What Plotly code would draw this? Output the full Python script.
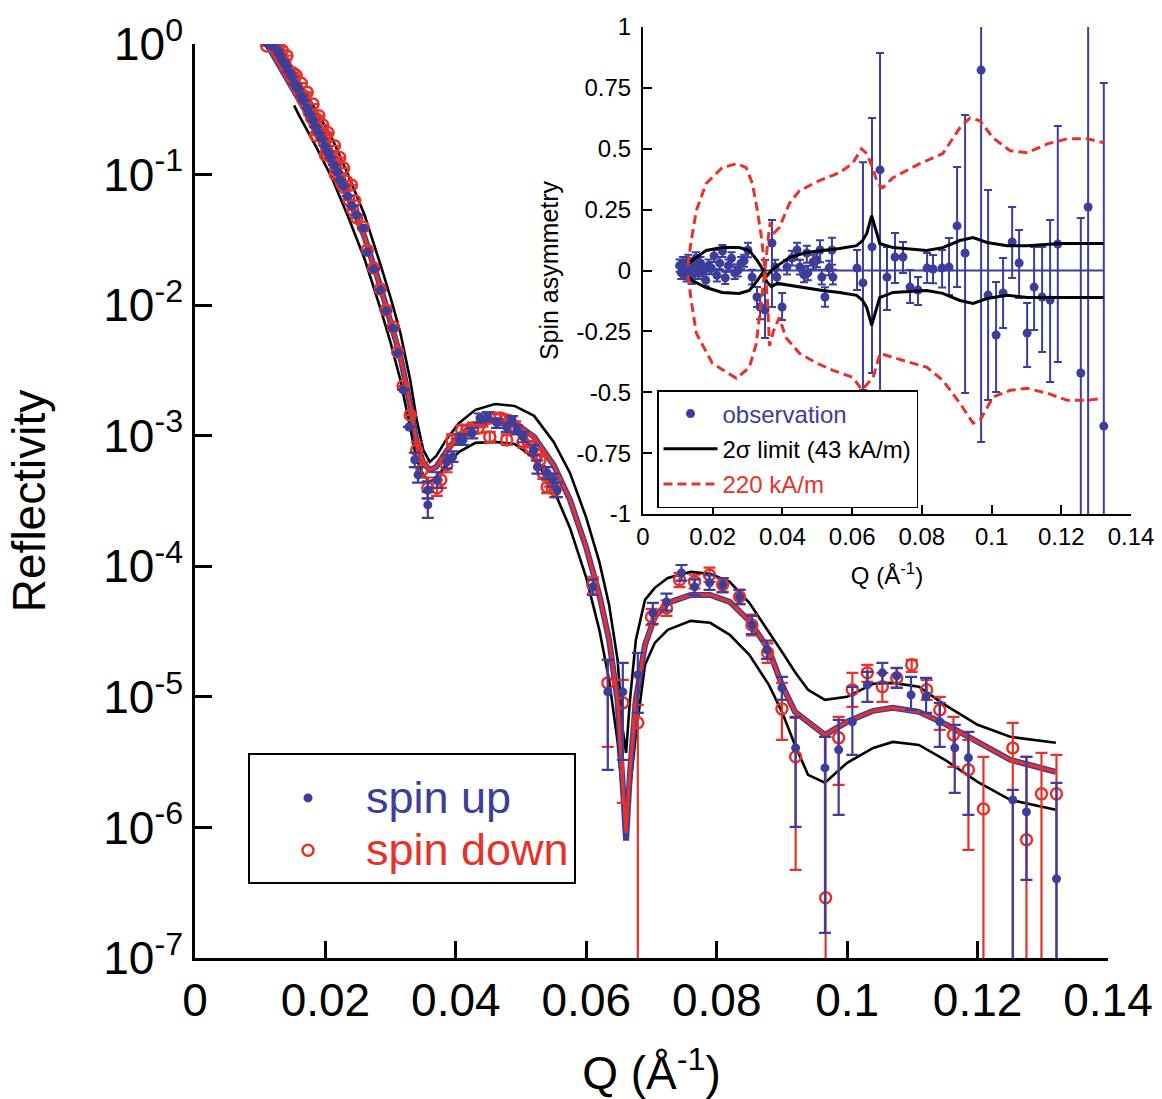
import numpy as np
import plotly.graph_objects as go

BLUE = "#3D3D9B"
RED = "#E6332A"
AX = -9.0  # error bar that runs past the bottom of the axis

# ---------------- main panel: model curves (log10 reflectivity) ----------------
q_curve = [0.0110, 0.0135, 0.0160, 0.0185, 0.0210, 0.0235, 0.0260, 0.0285, 0.0300, 0.0315,
           0.0330, 0.0340, 0.0350, 0.0360, 0.0370, 0.0385, 0.0405, 0.0430, 0.0460, 0.0490,
           0.0520, 0.0550, 0.0575, 0.0600, 0.0620, 0.0635, 0.0648, 0.0656, 0.0661, 0.0667,
           0.0676, 0.0690, 0.0705, 0.0725, 0.0760, 0.0790, 0.0820, 0.0850, 0.0880, 0.0900,
           0.0920, 0.0940, 0.0966, 0.1000, 0.1040, 0.1070, 0.1110, 0.1150, 0.1200, 0.1250, 0.1320]
fit_down_log = [0.000, -0.214, -0.421, -0.643, -0.873, -1.164, -1.478, -1.868, -2.121, -2.397,
                -2.764, -3.055, -3.208, -3.262, -3.239, -3.124, -2.994, -2.917, -2.879, -2.902,
                -3.009, -3.224, -3.491, -3.859, -4.219, -4.564, -5.023, -5.674, -6.041, -5.559,
                -5.023, -4.602, -4.387, -4.280, -4.219, -4.219, -4.273, -4.418, -4.640, -4.908,
                -5.115, -5.191, -5.291, -5.191, -5.107, -5.084, -5.115, -5.207, -5.345, -5.482, -5.574]
fit_up_log = [0.000, -0.214, -0.421, -0.643, -0.873, -1.164, -1.478, -1.868, -2.121, -2.397,
              -2.764, -3.055, -3.208, -3.262, -3.239, -3.124, -2.994, -2.917, -2.879, -2.902,
              -3.009, -3.224, -3.491, -3.859, -4.219, -4.564, -5.030, -5.720, -6.100, -5.580,
              -5.023, -4.602, -4.387, -4.280, -4.219, -4.219, -4.273, -4.418, -4.640, -4.908,
              -5.115, -5.191, -5.291, -5.191, -5.107, -5.084, -5.115, -5.207, -5.345, -5.482, -5.574]
# 2-sigma band curves (start a little after the first data point)
q_band = [0.0152, 0.0160, 0.0185, 0.0210, 0.0235, 0.0260, 0.0285, 0.0300, 0.0315,
          0.0330, 0.0340, 0.0350, 0.0360, 0.0370, 0.0385, 0.0405, 0.0430, 0.0460, 0.0490,
          0.0520, 0.0550, 0.0575, 0.0600, 0.0620, 0.0635, 0.0648, 0.0656, 0.0661, 0.0667,
          0.0676, 0.0690, 0.0705, 0.0725, 0.0760, 0.0790, 0.0820, 0.0850, 0.0880, 0.0900,
          0.0920, 0.0940, 0.0966, 0.1000, 0.1040, 0.1070, 0.1110, 0.1150, 0.1200, 0.1250, 0.1320]
band_hi_log = [-0.230, -0.291, -0.505, -0.720, -1.003, -1.309, -1.700, -1.945, -2.213,
               -2.573, -2.879, -3.109, -3.201, -3.155, -3.032, -2.902, -2.802, -2.757, -2.772,
               -2.848, -3.047, -3.285, -3.629, -3.966, -4.296, -4.717, -5.253, -5.429, -5.023,
               -4.564, -4.257, -4.165, -4.089, -4.043, -4.058, -4.119, -4.280, -4.502, -4.655,
               -4.809, -4.946, -5.023, -5.000, -4.900, -4.893, -4.923, -5.061, -5.214, -5.306, -5.352]
band_lo_log = [-0.470, -0.551, -0.781, -1.026, -1.325, -1.646, -2.037, -2.289, -2.573,
               -2.940, -3.185, -3.300, -3.354, -3.323, -3.224, -3.124, -3.055, -3.047, -3.063,
               -3.170, -3.415, -3.706, -4.089, -4.487, -4.870, -5.345, -5.789, -5.888, -5.712,
               -5.291, -4.755, -4.587, -4.487, -4.418, -4.433, -4.525, -4.678, -4.908, -5.115,
               -5.368, -5.597, -5.658, -5.505, -5.391, -5.345, -5.368, -5.482, -5.651, -5.789, -5.865]

# ---------------- main panel: measured points ----------------
# dense low-Q points (bars smaller than the symbols)
down_dense_q = [0.0110, 0.0115, 0.0120, 0.0124, 0.0129, 0.0133, 0.0138, 0.0143, 0.0147, 0.0150,
                0.0152, 0.0156, 0.0161, 0.0166, 0.0168, 0.0170, 0.0175, 0.0179, 0.0184, 0.0186,
                0.0189, 0.0193, 0.0198, 0.0200, 0.0202, 0.0207, 0.0212, 0.0216, 0.0218, 0.0221,
                0.0225, 0.0230, 0.0232, 0.0236, 0.0242, 0.0245, 0.0248,
                0.0128, 0.0134, 0.0141, 0.0155, 0.0163, 0.0172, 0.0181, 0.0190, 0.0196, 0.0204,
                0.0214, 0.0222, 0.0228, 0.0240, 0.0185, 0.0200, 0.0215]
down_dense_log = [-0.015, 0.015, 0.031, -0.023, -0.061, -0.107, -0.145, -0.199, -0.245, -0.220,
                  -0.276, -0.329, -0.375, -0.429, -0.400, -0.459, -0.521, -0.567, -0.612, -0.570,
                  -0.666, -0.697, -0.750, -0.700, -0.812, -0.858, -0.888, -0.949, -0.900, -1.026,
                  -1.072, -1.103, -1.050, -1.194, -1.271, -1.200, -1.332,
                  -0.020, -0.050, -0.090, -0.240, -0.300, -0.370, -0.460, -0.550, -0.620, -0.680,
                  -0.780, -0.870, -0.950, -1.080, -0.700, -0.850, -1.000]
up_dense_q = [0.0112, 0.0117, 0.0121, 0.0126, 0.0130, 0.0135, 0.0140, 0.0144, 0.0149, 0.0153,
              0.0158, 0.0163, 0.0167, 0.0172, 0.0176, 0.0181, 0.0185, 0.0190, 0.0195, 0.0199,
              0.0204, 0.0208, 0.0213, 0.0218, 0.0222, 0.0228, 0.0234, 0.0241, 0.0248]
up_dense_log = [0.000, -0.015, 0.000, -0.046, -0.084, -0.130, -0.168, -0.214, -0.253, -0.306,
                -0.345, -0.398, -0.436, -0.490, -0.536, -0.582, -0.636, -0.681, -0.727, -0.781,
                -0.827, -0.873, -0.926, -0.980, -1.041, -1.087, -1.164, -1.240, -1.309]

# points with bars: Q, log10 R, log10 of bar top, log10 of bar bottom (None = no bar)
down_q = [0.0258, 0.0264, 0.0274, 0.0284, 0.0293, 0.0304, 0.0311, 0.0319, 0.0330, 0.0340,
          0.0348, 0.0357, 0.0371, 0.0377, 0.0386, 0.0394, 0.0409, 0.0417, 0.0426, 0.0434,
          0.0441, 0.0452, 0.0460, 0.0468, 0.0476, 0.0483, 0.0491, 0.0452, 0.0478, 0.0503,
          0.0514, 0.0524, 0.0529, 0.0534, 0.0540, 0.0544, 0.0552, 0.0610, 0.0633, 0.0656,
          0.0679, 0.0700, 0.0723, 0.0743, 0.0766, 0.0789, 0.0809, 0.0835, 0.0854, 0.0878,
          0.0900, 0.0921, 0.0967, 0.0987, 0.1008, 0.1031, 0.1054, 0.1076, 0.1099, 0.1122,
          0.1142, 0.1163, 0.1186, 0.1209, 0.1254, 0.1275, 0.1298, 0.1321]
down_log = [-1.401, -1.577, -1.715, -1.876, -2.037, -2.167, -2.358, -2.619, -2.841, -3.109,
            -3.262, -3.400, -3.400, -3.338, -3.224, -3.032, -2.956, -2.956, -2.940, -2.940,
            -2.894, -2.864, -2.864, -2.864, -2.879, -2.894, -2.933, -3.009, -3.032, -3.047,
            -3.086, -3.147, -3.185, -3.285, -3.392, -3.338, -3.415, -4.142, -4.893, -5.046,
            -5.199, -4.387, -4.319, -4.104, -4.119, -4.066, -4.142, -4.234, -4.449, -4.663,
            -5.092, -5.459, -6.539, -5.314, -4.946, -4.816, -4.923, -4.855, -4.755, -4.946,
            -5.100, -5.291, -5.559, -5.858, -5.391, -6.095, -5.743, -5.743]
down_top = [None, None, None, None, None, None, None, None, None, -3.05,
            -3.20, -3.32, -3.34, -3.28, -3.17, -2.99, -2.92, -2.92, -2.90, -2.90,
            -2.86, -2.83, -2.83, -2.83, -2.84, -2.86, -2.89, -2.97, -2.99, -3.00,
            -3.04, -3.10, -3.14, -3.24, -3.34, -3.29, -3.36, -4.08, -4.717, -4.870,
            -5.061, -4.326, -4.26, -4.05, -4.065, -4.01, -4.09, -4.18, -4.37, -4.59,
            -4.893, -5.161, -5.306, -5.153, -4.816, -4.755, -4.816, -4.78, -4.717, -4.870,
            -5.000, -5.153, -5.329, -5.459, -5.199, -5.459, -5.429, -5.444]
down_bot = [None, None, None, None, None, None, None, None, None, -3.17,
            -3.32, -3.48, -3.46, -3.40, -3.28, -3.07, -3.00, -3.00, -2.98, -2.98,
            -2.93, -2.90, -2.90, -2.90, -2.92, -2.93, -2.98, -3.05, -3.07, -3.09,
            -3.13, -3.19, -3.23, -3.33, -3.44, -3.39, -3.47, -4.21, -5.383, -5.812,
            AX, -4.449, -4.38, -4.16, -4.17, -4.12, -4.195, -4.29, -4.53, -4.74,
            -5.329, -6.325, AX, -5.674, -5.077, -4.885, -5.038, -4.93, -4.809, -5.023,
            -5.253, -5.536, -6.172, AX, AX, AX, AX, AX]

up_q = [0.0258, 0.0264, 0.0274, 0.0284, 0.0293, 0.0304, 0.0311, 0.0319, 0.0328, 0.0337,
        0.0342, 0.0357, 0.0357, 0.0371, 0.0386, 0.0395, 0.0406, 0.0411, 0.0425, 0.0437,
        0.0449, 0.0463, 0.0478, 0.0486, 0.0494, 0.0503, 0.0519, 0.0525, 0.0540, 0.0549,
        0.0555, 0.0610, 0.0633, 0.0656, 0.0679, 0.0702, 0.0723, 0.0746, 0.0766, 0.0789,
        0.0809, 0.0835, 0.0854, 0.0877, 0.0900, 0.0921, 0.0966, 0.0987, 0.1008, 0.1031,
        0.1054, 0.1076, 0.1098, 0.1121, 0.1142, 0.1165, 0.1186, 0.1254, 0.1275, 0.1321]
up_log = [-1.409, -1.593, -1.723, -1.884, -2.044, -2.175, -2.366, -2.649, -2.933, -3.185,
          -3.300, -3.415, -3.530, -3.338, -3.201, -3.162, -3.032, -3.032, -2.979, -2.864,
          -2.856, -2.902, -2.933, -2.879, -2.956, -3.009, -3.109, -3.239, -3.285, -3.338,
          -3.415, -4.158, -4.962, -4.962, -4.832, -4.357, -4.273, -4.051, -4.158, -4.127,
          -4.142, -4.234, -4.449, -4.640, -4.931, -5.391, -5.544, -5.406, -5.191, -4.908,
          -4.816, -4.839, -4.985, -5.000, -5.191, -5.391, -5.467, -5.789, -5.881, -6.394]
up_top = [None, None, None, None, None, None, None, None, None, -3.13,
          -3.24, -3.35, -3.430, -3.28, -3.15, -3.12, -2.99, -2.99, -2.94, -2.83,
          -2.82, -2.87, -2.90, -2.85, -2.92, -2.97, -3.07, -3.19, -3.24, -3.29,
          -3.36, -4.10, -4.717, -4.740, -4.663, -4.28, -4.21, -3.99, -4.10, -4.07,
          -4.09, -4.18, -4.38, -4.57, -4.847, -5.153, -5.306, -5.176, -4.923, -4.809,
          -4.740, -4.778, -4.847, -4.855, -5.046, -5.214, -5.268, -5.712, -5.459, -5.659]
up_bot = [None, None, None, None, None, None, None, None, None, -3.24,
          -3.36, -3.48, -3.629, -3.40, -3.25, -3.20, -3.07, -3.07, -3.02, -2.90,
          -2.89, -2.94, -2.97, -2.91, -2.99, -3.05, -3.15, -3.29, -3.33, -3.39,
          -3.47, -4.22, -5.559, -5.482, -5.123, -4.44, -4.34, -4.11, -4.22, -4.18,
          -4.20, -4.29, -4.52, -4.71, -5.023, -5.995, -6.807, -5.904, -5.444, -5.038,
          -4.893, -4.931, -5.100, -5.123, -5.383, -5.735, -5.904, AX, -6.401, AX]

# ---------------- inset: spin asymmetry ----------------
obs_q = [0.0105, 0.0110, 0.0115, 0.0120, 0.0125, 0.0130, 0.0135, 0.0140, 0.0146, 0.0152,
         0.0158, 0.0165, 0.0172, 0.0180, 0.0188, 0.0196, 0.0204, 0.0212, 0.0220, 0.0228,
         0.0236, 0.0245, 0.0254, 0.0263, 0.0272, 0.0281, 0.0290, 0.0301, 0.0313, 0.0327,
         0.0336, 0.0350, 0.0370, 0.0379, 0.0384, 0.0399, 0.0413, 0.0427, 0.0442, 0.0450,
         0.0462, 0.0470, 0.0473, 0.0488, 0.0499, 0.0508, 0.0513, 0.0522, 0.0534, 0.0542,
         0.0545, 0.0614, 0.0631, 0.0657, 0.0680, 0.0700, 0.0723, 0.0746, 0.0766, 0.0789,
         0.0815, 0.0832, 0.0858, 0.0878, 0.0901, 0.0924, 0.0970, 0.0990, 0.1013, 0.1033,
         0.1059, 0.1079, 0.1102, 0.1122, 0.1145, 0.1168, 0.1190, 0.1256, 0.1277, 0.1322]
obs_sa = [0.02, -0.01, 0.03, 0.00, -0.02, 0.04, 0.01, -0.03, 0.02, 0.05,
          -0.01, 0.03, 0.00, -0.04, 0.02, 0.01, 0.06, -0.02, 0.03, 0.08,
          -0.03, 0.02, 0.05, -0.01, 0.00, 0.03, 0.04, 0.084, -0.027, -0.109,
          -0.150, -0.162, 0.113, 0.014, -0.027, -0.150, 0.014, 0.051, 0.084, 0.014,
          -0.018, 0.072, -0.010, 0.035, 0.043, 0.084, -0.027, -0.109, 0.010, 0.084,
          -0.027, 0.010, -0.051, 0.097, 0.413, -0.027, 0.055, 0.055, -0.068, -0.080,
          0.010, 0.006, 0.010, 0.014, 0.183, 0.072, 0.823, -0.101, -0.265, -0.092,
          0.117, 0.031, -0.257, -0.068, -0.109, -0.121, 0.109, -0.421, 0.261, -0.639]
obs_err_plus = [0.025, 0.025, 0.025, 0.025, 0.025, 0.025, 0.025, 0.025, 0.025, 0.025,
                0.025, 0.025, 0.025, 0.025, 0.025, 0.025, 0.025, 0.025, 0.025, 0.025,
                0.025, 0.025, 0.025, 0.025, 0.025, 0.025, 0.025, 0.030, 0.030, 0.041,
                0.050, 0.205, 0.094, 0.030, 0.030, 0.058, 0.030, 0.030, 0.030, 0.030,
                0.030, 0.030, 0.030, 0.030, 0.030, 0.040, 0.030, 0.040, 0.030, 0.050,
                0.030, 0.074, 0.496, 0.529, 0.480, 0.124, 0.099, 0.062, 0.070, 0.053,
                0.062, 0.058, 0.074, 0.119, 0.242, 0.567, 0.250, 0.432, 0.218, 0.143,
                0.144, 0.135, 0.124, 0.165, 0.206, 0.328, 0.484, 0.637, 1.000, 1.409]
obs_err_minus = [0.025, 0.025, 0.025, 0.025, 0.025, 0.025, 0.025, 0.025, 0.025, 0.025,
                 0.025, 0.025, 0.025, 0.025, 0.025, 0.025, 0.025, 0.025, 0.025, 0.025,
                 0.025, 0.025, 0.025, 0.025, 0.025, 0.025, 0.025, 0.030, 0.030, 0.041,
                 0.050, 0.115, 0.263, 0.030, 0.030, 0.053, 0.030, 0.030, 0.040, 0.030,
                 0.030, 0.040, 0.030, 0.030, 0.030, 0.050, 0.030, 0.040, 0.030, 0.060,
                 0.030, 0.090, 0.440, 0.518, 1.000, 0.135, 0.106, 0.065, 0.065, 0.062,
                 0.061, 0.058, 0.080, 0.115, 0.251, 0.575, 1.527, 0.431, 0.234, 0.144,
                 0.148, 0.144, 0.139, 0.176, 0.226, 0.337, 0.485, 1.000, 1.500, 1.000]
zero_q = [0.0105, 0.1322]
zero_sa = [0.0, 0.0]

lim_q = [0.0132, 0.0141, 0.0181, 0.0227, 0.0276, 0.0305, 0.0328, 0.0342, 0.0357, 0.0368,
         0.0386, 0.0420, 0.0469, 0.0515, 0.0564, 0.0613, 0.0630, 0.0642, 0.0656, 0.0671,
         0.0679, 0.0717, 0.0814, 0.0860, 0.0909, 0.0947, 0.0987, 0.1045, 0.1102, 0.1197, 0.1321]
lim_hi = [0.029, 0.041, 0.082, 0.094, 0.094, 0.082, 0.041, 0.008, -0.020, 0.000,
          0.020, 0.053, 0.074, 0.082, 0.090, 0.102, 0.123, 0.152, 0.225, 0.152,
          0.111, 0.094, 0.082, 0.094, 0.123, 0.135, 0.115, 0.102, 0.102, 0.111, 0.111]
lim_lo = [-0.029, -0.041, -0.070, -0.090, -0.094, -0.082, -0.041, -0.012, -0.049, -0.066,
          -0.053, -0.061, -0.074, -0.082, -0.090, -0.102, -0.123, -0.152, -0.225, -0.152,
          -0.111, -0.090, -0.082, -0.094, -0.123, -0.135, -0.115, -0.102, -0.111, -0.111, -0.111]

m220a_q = [0.0129, 0.0138, 0.0153, 0.0181, 0.0227, 0.0268, 0.0296, 0.0314, 0.0328, 0.0340,
           0.0348, 0.0357, 0.0363, 0.0374, 0.0391, 0.0410, 0.0449, 0.0499, 0.0545, 0.0602,
           0.0628, 0.0660, 0.0680, 0.0717, 0.0815, 0.0860, 0.0909, 0.0947, 0.0967, 0.1004,
           0.1053, 0.1102, 0.1160, 0.1217, 0.1275, 0.1321]
m220a_sa = [0.020, 0.120, 0.246, 0.357, 0.422, 0.439, 0.422, 0.357, 0.246, 0.135,
            0.030, -0.120, -0.310, -0.250, -0.193, -0.275, -0.340, -0.381, -0.410, -0.439,
            -0.490, -0.440, -0.340, -0.357, -0.398, -0.451, -0.545, -0.627, -0.615, -0.520,
            -0.492, -0.484, -0.504, -0.533, -0.533, -0.525]
m220b_q = [0.0129, 0.0138, 0.0153, 0.0199, 0.0268, 0.0305, 0.0325, 0.0334, 0.0342, 0.0351,
           0.0360, 0.0365, 0.0377, 0.0391, 0.0420, 0.0449, 0.0506, 0.0564, 0.0601, 0.0627,
           0.0642, 0.0659, 0.0673, 0.0688, 0.0717, 0.0794, 0.0860, 0.0909, 0.0938, 0.0967,
           0.1004, 0.1053, 0.1102, 0.1160, 0.1217, 0.1275, 0.1321]
m220b_sa = [-0.020, -0.120, -0.258, -0.381, -0.443, -0.398, -0.300, -0.193, -0.082, 0.020,
            0.143, 0.197, 0.156, 0.176, 0.275, 0.328, 0.369, 0.402, 0.439, 0.500,
            0.480, 0.422, 0.357, 0.340, 0.381, 0.439, 0.480, 0.586, 0.627, 0.615,
            0.545, 0.492, 0.484, 0.520, 0.541, 0.541, 0.525]

q_ticks = [0, 0.02, 0.04, 0.06, 0.08, 0.1, 0.12, 0.14]
q_ticktext = ["0", "0.02", "0.04", "0.06", "0.08", "0.1", "0.12", "0.14"]
r_ticks = [1, 1e-1, 1e-2, 1e-3, 1e-4, 1e-5, 1e-6, 1e-7]
r_ticktext = ["10<sup>0</sup>", "10<sup>-1</sup>", "10<sup>-2</sup>", "10<sup>-3</sup>",
              "10<sup>-4</sup>", "10<sup>-5</sup>", "10<sup>-6</sup>", "10<sup>-7</sup>"]
sa_ticks = [1, 0.75, 0.5, 0.25, 0, -0.25, -0.5, -0.75, -1]
sa_ticktext = ["1", "0.75", "0.5", "0.25", "0", "-0.25", "-0.5", "-0.75", "-1"]


# ---------------- helpers ----------------
def lin(v):
    return 10.0 ** np.asarray(v, dtype=float)


def bars(logv, top, bot):
    y = lin(logv)
    plus = [(10.0 ** t - yy) if t is not None else 0.0 for t, yy in zip(top, y)]
    minus = [(yy - 10.0 ** b) if b is not None else 0.0 for b, yy in zip(bot, y)]
    return plus, minus


dn_plus, dn_minus = bars(down_log, down_top, down_bot)
up_plus, up_minus = bars(up_log, up_top, up_bot)

dn_x = down_dense_q + down_q
dn_y = np.concatenate([lin(down_dense_log), lin(down_log)])
dn_p = [0.0] * len(down_dense_q) + dn_plus
dn_m = [0.0] * len(down_dense_q) + dn_minus
up_x = up_dense_q + up_q
up_y = np.concatenate([lin(up_dense_log), lin(up_log)])
up_p = [0.0] * len(up_dense_q) + up_plus
up_m = [0.0] * len(up_dense_q) + up_minus

DASH = "9px,5px"
BIG = '<span style="color:%s;font-size:45px">%s</span>'

fig = go.Figure()

# model curves (main)
fig.add_trace(go.Scatter(x=q_band, y=lin(band_hi_log), mode="lines",
                         line=dict(color="black", width=2.6), showlegend=False, hoverinfo="skip"))
fig.add_trace(go.Scatter(x=q_band, y=lin(band_lo_log), mode="lines",
                         line=dict(color="black", width=2.6), showlegend=False, hoverinfo="skip"))
fig.add_trace(go.Scatter(x=q_curve, y=lin(fit_up_log), mode="lines",
                         line=dict(color=BLUE, width=6), showlegend=False, hoverinfo="skip"))
fig.add_trace(go.Scatter(x=q_curve, y=lin(fit_down_log), mode="lines",
                         line=dict(color=RED, width=3.2), showlegend=False, hoverinfo="skip"))

# measured data (main)
fig.add_trace(go.Scatter(
    x=dn_x, y=dn_y, mode="markers", name=BIG % (RED, "spin down"),
    legendrank=2,
    marker=dict(symbol="circle-open", size=11, color=RED, line=dict(width=2.5, color=RED)),
    error_y=dict(type="data", symmetric=False, array=dn_p, arrayminus=dn_m,
                 color=RED, thickness=2.2, width=6)))
fig.add_trace(go.Scatter(
    x=up_x, y=up_y, mode="markers", name=BIG % (BLUE, "spin up"),
    legendrank=1,
    marker=dict(symbol="circle", size=9, color=BLUE),
    error_y=dict(type="data", symmetric=False, array=up_p, arrayminus=up_m,
                 color=BLUE, thickness=2.2, width=6)))

# inset
fig.add_trace(go.Scatter(x=zero_q, y=zero_sa, mode="lines", xaxis="x2", yaxis="y2",
                         line=dict(color=BLUE, width=2), showlegend=False, hoverinfo="skip"))
fig.add_trace(go.Scatter(
    x=obs_q, y=obs_sa, mode="markers", xaxis="x2", yaxis="y2", legend="legend2",
    name='<span style="color:%s">observation</span>' % BLUE, legendgroup="a",
    marker=dict(symbol="circle", size=9, color=BLUE),
    error_y=dict(type="data", symmetric=False, array=obs_err_plus, arrayminus=obs_err_minus,
                 color=BLUE, thickness=2, width=4)))
fig.add_trace(go.Scatter(x=lim_q, y=lim_hi, mode="lines", xaxis="x2", yaxis="y2", legend="legend2",
                         name="2σ limit (43 kA/m)", legendgroup="b",
                         line=dict(color="black", width=3)))
fig.add_trace(go.Scatter(x=lim_q, y=lim_lo, mode="lines", xaxis="x2", yaxis="y2", legend="legend2",
                         showlegend=False, legendgroup="b", line=dict(color="black", width=3)))
fig.add_trace(go.Scatter(x=m220a_q, y=m220a_sa, mode="lines", xaxis="x2", yaxis="y2", legend="legend2",
                         name='<span style="color:%s">220 kA/m</span>' % RED, legendgroup="c",
                         line=dict(color=RED, width=3, dash=DASH)))
fig.add_trace(go.Scatter(x=m220b_q, y=m220b_sa, mode="lines", xaxis="x2", yaxis="y2", legend="legend2",
                         showlegend=False, legendgroup="c",
                         line=dict(color=RED, width=3, dash=DASH)))

W, H = 1162, 1099
axis_common = dict(showline=True, linecolor="black", showgrid=False, zeroline=False,
                   ticks="inside", tickcolor="black", mirror=False)

fig.update_layout(
    width=W, height=H, autosize=False,
    margin=dict(l=0, r=0, t=0, b=0),
    paper_bgcolor="white", plot_bgcolor="rgba(0,0,0,0)",
    font=dict(family="Liberation Sans, Arial, sans-serif", color="black"),
    xaxis=dict(domain=[195 / W, 1108 / W], range=[0, 0.14], anchor="y",
               tickvals=q_ticks, ticktext=q_ticktext, ticklen=17, tickwidth=2.5, linewidth=2.5,
               tickfont=dict(size=46),
               title=dict(text="Q (Å<sup>-1</sup>)", font=dict(size=46), standoff=36),
               automargin=False, **axis_common),
    yaxis=dict(domain=[1 - 958 / H, 1 - 44 / H], type="log", range=[-7, 0], anchor="x",
               tickvals=r_ticks, ticktext=r_ticktext, ticklen=17, tickwidth=2.5, linewidth=2.5,
               tickfont=dict(size=46),
               title=dict(text="Reflectivity", font=dict(size=46), standoff=44),
               automargin=False, **axis_common),
    xaxis2=dict(domain=[643 / W, 1131 / W], range=[0, 0.14], anchor="y2",
                tickvals=q_ticks, ticktext=q_ticktext, ticklen=9, tickwidth=2, linewidth=2,
                tickfont=dict(size=24),
                title=dict(text="Q (Å<sup>-1</sup>)", font=dict(size=24), standoff=18),
                automargin=False, **axis_common),
    yaxis2=dict(domain=[1 - 514 / H, 1 - 27 / H], range=[-1, 1], anchor="x2",
                tickvals=sa_ticks, ticktext=sa_ticktext, ticklen=9, tickwidth=2, linewidth=2,
                tickfont=dict(size=24), ticklabelstandoff=5,
                title=dict(text="Spin asymmetry", font=dict(size=25), standoff=11),
                automargin=False, **axis_common),
    legend=dict(x=248 / W, y=1 - 753 / H, xanchor="left", yanchor="top",
                bgcolor="white", bordercolor="black", borderwidth=2,
                title=dict(text="&nbsp;", font=dict(size=9)),
                font=dict(size=38), itemwidth=106, traceorder="normal"),
    legend2=dict(x=657 / W, y=1 - 390 / H, xanchor="left", yanchor="top",
                 bgcolor="white", bordercolor="black", borderwidth=1.5,
                 font=dict(size=24), itemwidth=54, tracegroupgap=1, traceorder="grouped"),
)

fig.write_html("out.html")
